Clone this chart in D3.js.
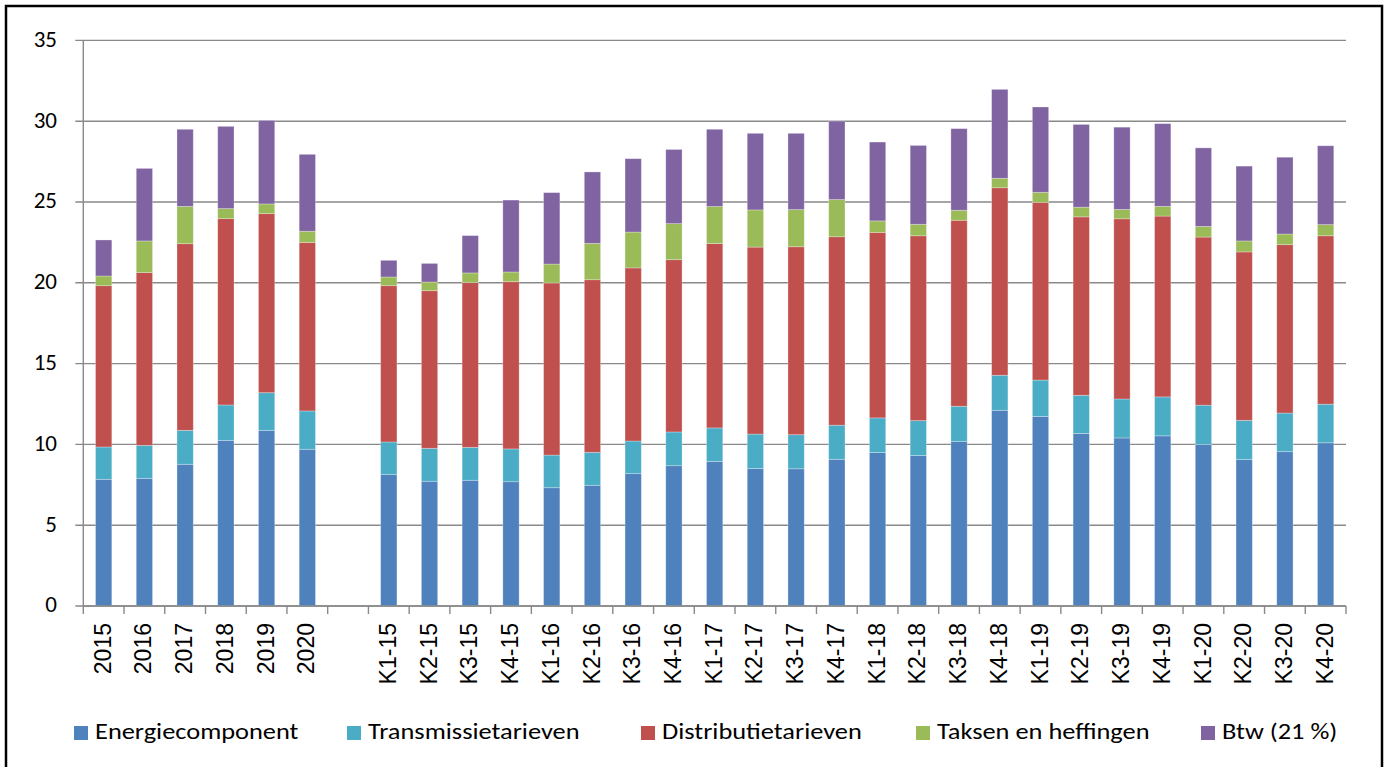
<!DOCTYPE html>
<html>
<head>
<meta charset="utf-8">
<script src="https://cdn.jsdelivr.net/npm/d3@7"></script>
<style>
  html, body { margin: 0; padding: 0; background: #fff; }
  svg { display: block; }
  .ylab { font-family: Carlito, Calibri, Lato, sans-serif; font-size: 23px; fill: #000; }
  .xlab { font-family: "Liberation Sans", Arial, sans-serif; font-size: 23px; fill: #000; }
  .leg { font-family: Carlito, Calibri, Lato, sans-serif; font-size: 22px; fill: #000; }
</style>
</head>
<body>
<svg width="1389" height="767"></svg>
<script>
// categories: 6 years, an empty slot, 24 quarters
var categories = ['2015', '2016', '2017', '2018', '2019', '2020', '',
  'K1-15', 'K2-15', 'K3-15', 'K4-15', 'K1-16', 'K2-16', 'K3-16', 'K4-16',
  'K1-17', 'K2-17', 'K3-17', 'K4-17', 'K1-18', 'K2-18', 'K3-18', 'K4-18',
  'K1-19', 'K2-19', 'K3-19', 'K4-19', 'K1-20', 'K2-20', 'K3-20', 'K4-20'];

var seriesNames = ['Energiecomponent', 'Transmissietarieven', 'Distributietarieven',
  'Taksen en heffingen', 'Btw (21 %)'];

var energie = [7.84, 7.90, 8.77, 10.25, 10.87, 9.70, 0,
  8.13, 7.72, 7.78, 7.69, 7.32, 7.47, 8.19, 8.68,
  8.95, 8.51, 8.49, 9.08, 9.50, 9.31, 10.19, 12.11,
  11.73, 10.68, 10.40, 10.53, 9.99, 9.06, 9.55, 10.10];

var transmissie = [2.00, 2.04, 2.10, 2.19, 2.33, 2.37, 0,
  2.02, 2.04, 2.04, 2.03, 2.02, 2.04, 2.02, 2.09,
  2.07, 2.13, 2.11, 2.11, 2.14, 2.16, 2.17, 2.17,
  2.25, 2.36, 2.41, 2.41, 2.44, 2.43, 2.39, 2.39];

var distributie = [9.98, 10.69, 11.55, 11.53, 11.08, 10.43, 0,
  9.67, 9.75, 10.19, 10.35, 10.65, 10.68, 10.71, 10.66,
  11.41, 11.57, 11.63, 11.66, 11.48, 11.44, 11.51, 11.60,
  11.00, 11.04, 11.15, 11.19, 10.40, 10.42, 10.42, 10.42];

var taksen = [0.60, 1.96, 2.31, 0.62, 0.60, 0.69, 0,
  0.54, 0.54, 0.60, 0.60, 1.17, 2.25, 2.22, 2.23,
  2.29, 2.30, 2.30, 2.30, 0.71, 0.71, 0.62, 0.59,
  0.62, 0.60, 0.58, 0.60, 0.66, 0.68, 0.66, 0.69];

var btw = [2.23, 4.49, 4.77, 5.09, 5.17, 4.76, 0,
  1.03, 1.15, 2.31, 4.45, 4.42, 4.42, 4.54, 4.59,
  4.78, 4.74, 4.72, 4.86, 4.88, 4.88, 5.05, 5.50,
  5.28, 5.12, 5.09, 5.12, 4.86, 4.63, 4.75, 4.88];

var yTicks = [0, 5, 10, 15, 20, 25, 30, 35];

var colors = ['#4F81BD', '#4BACC6', '#C0504D', '#9BBB59', '#8064A2'];

// build rows for d3.stack
var keys = ['energie', 'transmissie', 'distributie', 'taksen', 'btw'];
var rows = categories.map(function(c, i) {
  return {
    cat: c,
    energie: energie[i],
    transmissie: transmissie[i],
    distributie: distributie[i],
    taksen: taksen[i],
    btw: btw[i]
  };
});

var svg = d3.select('svg');

// outer frame
svg.append('path')
  .attr('d', 'M6,770 L6,6 L1382,6 L1382,770')
  .attr('fill', 'none')
  .attr('stroke', '#000')
  .attr('stroke-width', 2.5);

var plotLeft = 83.3, plotRight = 1346, plotTop = 40.4, plotBottom = 606;

var x = d3.scaleBand()
  .domain(categories)
  .range([plotLeft, plotRight])
  .paddingInner(0.6)
  .paddingOuter(0.3);

var y = d3.scaleLinear()
  .domain([0, 35])
  .range([plotBottom, plotTop]);

var step = x.step();
var gap = (step - x.bandwidth()) / 2;

// gridlines + y ticks
svg.append('g')
  .selectAll('line')
  .data(yTicks)
  .enter()
  .append('line')
  .attr('x1', plotLeft - 8)
  .attr('x2', plotRight)
  .attr('y1', d => y(d))
  .attr('y2', d => y(d))
  .attr('stroke', '#898989')
  .attr('stroke-width', 1.4);

svg.append('g')
  .selectAll('text')
  .data(yTicks)
  .enter()
  .append('text')
  .classed('ylab', true)
  .attr('x', 57)
  .attr('y', d => y(d) + 1)
  .attr('text-anchor', 'end')
  .attr('dominant-baseline', 'middle')
  .text(d => d);

// y axis line
svg.append('line')
  .attr('x1', plotLeft).attr('x2', plotLeft)
  .attr('y1', plotTop).attr('y2', plotBottom)
  .attr('stroke', '#898989')
  .attr('stroke-width', 1.4);

// x tick marks at slot boundaries
var boundaries = categories.map(c => x(c) - gap);
boundaries.push(plotRight);
svg.append('g')
  .selectAll('line')
  .data(boundaries)
  .enter()
  .append('line')
  .attr('x1', d => d).attr('x2', d => d)
  .attr('y1', plotBottom).attr('y2', plotBottom + 8)
  .attr('stroke', '#898989')
  .attr('stroke-width', 1.4);

// stacked bars
var stacked = d3.stack().keys(keys)(rows);

svg.append('g')
  .selectAll('g')
  .data(stacked)
  .enter()
  .append('g')
  .attr('fill', (d, i) => colors[i])
  .selectAll('rect')
  .data(d => d.filter(p => p.data.cat !== ''))
  .enter()
  .append('rect')
  .attr('x', d => x(d.data.cat))
  .attr('width', x.bandwidth())
  .attr('y', d => y(d[1]))
  .attr('height', d => y(d[0]) - y(d[1]))
  .attr('stroke', '#fff')
  .attr('stroke-opacity', 0.35)
  .attr('stroke-width', 0.8);

// x axis baseline (drawn over bars)
svg.append('line')
  .attr('x1', plotLeft).attr('x2', plotRight)
  .attr('y1', plotBottom).attr('y2', plotBottom)
  .attr('stroke', '#898989')
  .attr('stroke-width', 1.4);

// rotated category labels
svg.append('g')
  .selectAll('text')
  .data(categories.filter(c => c !== ''))
  .enter()
  .append('text')
  .classed('xlab', true)
  .attr('transform', d => 'translate(' + (x(d) + x.bandwidth() / 2 + 1) + ',' + 623 + ') rotate(-90)')
  .attr('text-anchor', 'end')
  .attr('dominant-baseline', 'middle')
  .text(d => d);

// legend
var legendX = [74, 347, 641, 916, 1201];
var legend = svg.append('g')
  .selectAll('g')
  .data(seriesNames)
  .enter()
  .append('g')
  .attr('transform', (d, i) => 'translate(' + legendX[i] + ',733)');

legend.append('rect')
  .attr('x', 0)
  .attr('y', -7)
  .attr('width', 14)
  .attr('height', 14)
  .attr('fill', (d, i) => colors[i]);

// the reference's legend font is drawn a bit wide, so stretch it horizontally
legend.append('text')
  .classed('leg', true)
  .attr('transform', 'translate(21,1) scale(1.2,1)')
  .attr('dominant-baseline', 'middle')
  .text(d => d);
</script>
</body>
</html>
